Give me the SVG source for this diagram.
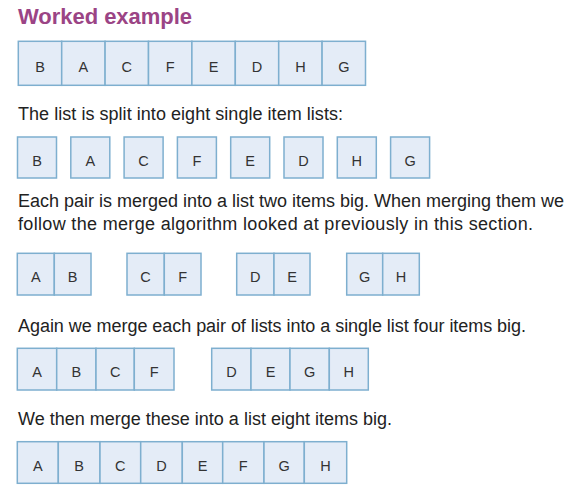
<svg xmlns="http://www.w3.org/2000/svg" width="574" height="495" viewBox="0 0 574 495">
<style>
.bg{fill:#ffffff}
.title{font-family:"Liberation Sans",Arial,sans-serif;font-size:22px;font-weight:bold;fill:#9b4485}
.body{font-family:"Liberation Sans",Arial,sans-serif;font-size:18px;fill:#222222}
.cell{fill:#e4ecf7;stroke:#7eafcf;stroke-width:1.5}
.lbl{font-family:"Liberation Sans",Arial,sans-serif;font-size:14.5px;fill:#333333;text-anchor:middle}
</style>
<rect class="bg" x="0" y="0" width="574" height="495"/>
<text class="title" x="18" y="24" textLength="174">Worked example</text>

<g id="row1">
<rect class="cell" x="18.3" y="41.3" width="43.4" height="44"/>
<rect class="cell" x="61.7" y="41.3" width="43.4" height="44"/>
<rect class="cell" x="105.1" y="41.3" width="43.4" height="44"/>
<rect class="cell" x="148.5" y="41.3" width="43.4" height="44"/>
<rect class="cell" x="191.9" y="41.3" width="43.4" height="44"/>
<rect class="cell" x="235.3" y="41.3" width="43.4" height="44"/>
<rect class="cell" x="278.7" y="41.3" width="43.4" height="44"/>
<rect class="cell" x="322.1" y="41.3" width="43.4" height="44"/>
<text class="lbl" x="40" y="72">B</text>
<text class="lbl" x="83.4" y="72">A</text>
<text class="lbl" x="126.8" y="72">C</text>
<text class="lbl" x="170.2" y="72">F</text>
<text class="lbl" x="213.6" y="72">E</text>
<text class="lbl" x="257" y="72">D</text>
<text class="lbl" x="300.4" y="72">H</text>
<text class="lbl" x="343.8" y="72">G</text>
</g>

<text class="body" x="18" y="120" textLength="325">The list is split into eight single item lists:</text>

<g id="row2">
<rect class="cell" x="17.5" y="137" width="39" height="41"/>
<rect class="cell" x="70.8" y="137" width="39" height="41"/>
<rect class="cell" x="124.1" y="137" width="39" height="41"/>
<rect class="cell" x="177.4" y="137" width="39" height="41"/>
<rect class="cell" x="230.7" y="137" width="39" height="41"/>
<rect class="cell" x="284" y="137" width="39" height="41"/>
<rect class="cell" x="337.3" y="137" width="39" height="41"/>
<rect class="cell" x="390.6" y="137" width="39" height="41"/>
<text class="lbl" x="37" y="166">B</text>
<text class="lbl" x="90.3" y="166">A</text>
<text class="lbl" x="143.6" y="166">C</text>
<text class="lbl" x="196.9" y="166">F</text>
<text class="lbl" x="250.2" y="166">E</text>
<text class="lbl" x="303.5" y="166">D</text>
<text class="lbl" x="356.8" y="166">H</text>
<text class="lbl" x="410.1" y="166">G</text>
</g>

<text class="body" x="18" y="206.7" textLength="546">Each pair is merged into a list two items big. When merging them we</text>
<text class="body" x="18" y="230" textLength="515">follow the merge algorithm looked at previously in this section.</text>

<g id="row3">
<rect class="cell" x="17.3" y="253.3" width="37" height="41.7"/>
<rect class="cell" x="54.3" y="253.3" width="36.7" height="41.7"/>
<rect class="cell" x="127" y="253.3" width="37.3" height="41.7"/>
<rect class="cell" x="164.3" y="253.3" width="36.7" height="41.7"/>
<rect class="cell" x="236.7" y="253.3" width="37.3" height="41.7"/>
<rect class="cell" x="274" y="253.3" width="36" height="41.7"/>
<rect class="cell" x="346.7" y="253.3" width="36" height="41.7"/>
<rect class="cell" x="382.7" y="253.3" width="36.6" height="41.7"/>
<text class="lbl" x="35.8" y="282">A</text>
<text class="lbl" x="72.6" y="282">B</text>
<text class="lbl" x="145.6" y="282">C</text>
<text class="lbl" x="182.6" y="282">F</text>
<text class="lbl" x="255.3" y="282">D</text>
<text class="lbl" x="292" y="282">E</text>
<text class="lbl" x="364.7" y="282">G</text>
<text class="lbl" x="401" y="282">H</text>
</g>

<text class="body" x="18" y="331.7" textLength="508">Again we merge each pair of lists into a single list four items big.</text>

<g id="row4">
<rect class="cell" x="17.3" y="348.3" width="39.4" height="41.7"/>
<rect class="cell" x="56.7" y="348.3" width="39.3" height="41.7"/>
<rect class="cell" x="96" y="348.3" width="38.3" height="41.7"/>
<rect class="cell" x="134.3" y="348.3" width="39.7" height="41.7"/>
<rect class="cell" x="211.7" y="348.3" width="39.3" height="41.7"/>
<rect class="cell" x="251" y="348.3" width="39" height="41.7"/>
<rect class="cell" x="290" y="348.3" width="39.3" height="41.7"/>
<rect class="cell" x="329.3" y="348.3" width="39" height="41.7"/>
<text class="lbl" x="37" y="376.5">A</text>
<text class="lbl" x="76.4" y="376.5">B</text>
<text class="lbl" x="115.2" y="376.5">C</text>
<text class="lbl" x="154.2" y="376.5">F</text>
<text class="lbl" x="231.4" y="376.5">D</text>
<text class="lbl" x="270.5" y="376.5">E</text>
<text class="lbl" x="309.7" y="376.5">G</text>
<text class="lbl" x="348.8" y="376.5">H</text>
</g>

<text class="body" x="18" y="425" textLength="374">We then merge these into a list eight items big.</text>

<g id="row5">
<rect class="cell" x="17.3" y="441.7" width="41" height="41.6"/>
<rect class="cell" x="58.3" y="441.7" width="41.7" height="41.6"/>
<rect class="cell" x="100" y="441.7" width="40.7" height="41.6"/>
<rect class="cell" x="140.7" y="441.7" width="41.6" height="41.6"/>
<rect class="cell" x="182.3" y="441.7" width="40.4" height="41.6"/>
<rect class="cell" x="222.7" y="441.7" width="41.3" height="41.6"/>
<rect class="cell" x="264" y="441.7" width="40.3" height="41.6"/>
<rect class="cell" x="304.3" y="441.7" width="42.4" height="41.6"/>
<text class="lbl" x="37.8" y="470.5">A</text>
<text class="lbl" x="79.2" y="470.5">B</text>
<text class="lbl" x="120.3" y="470.5">C</text>
<text class="lbl" x="161.5" y="470.5">D</text>
<text class="lbl" x="202.5" y="470.5">E</text>
<text class="lbl" x="243.3" y="470.5">F</text>
<text class="lbl" x="284.2" y="470.5">G</text>
<text class="lbl" x="325.5" y="470.5">H</text>
</g>
</svg>
